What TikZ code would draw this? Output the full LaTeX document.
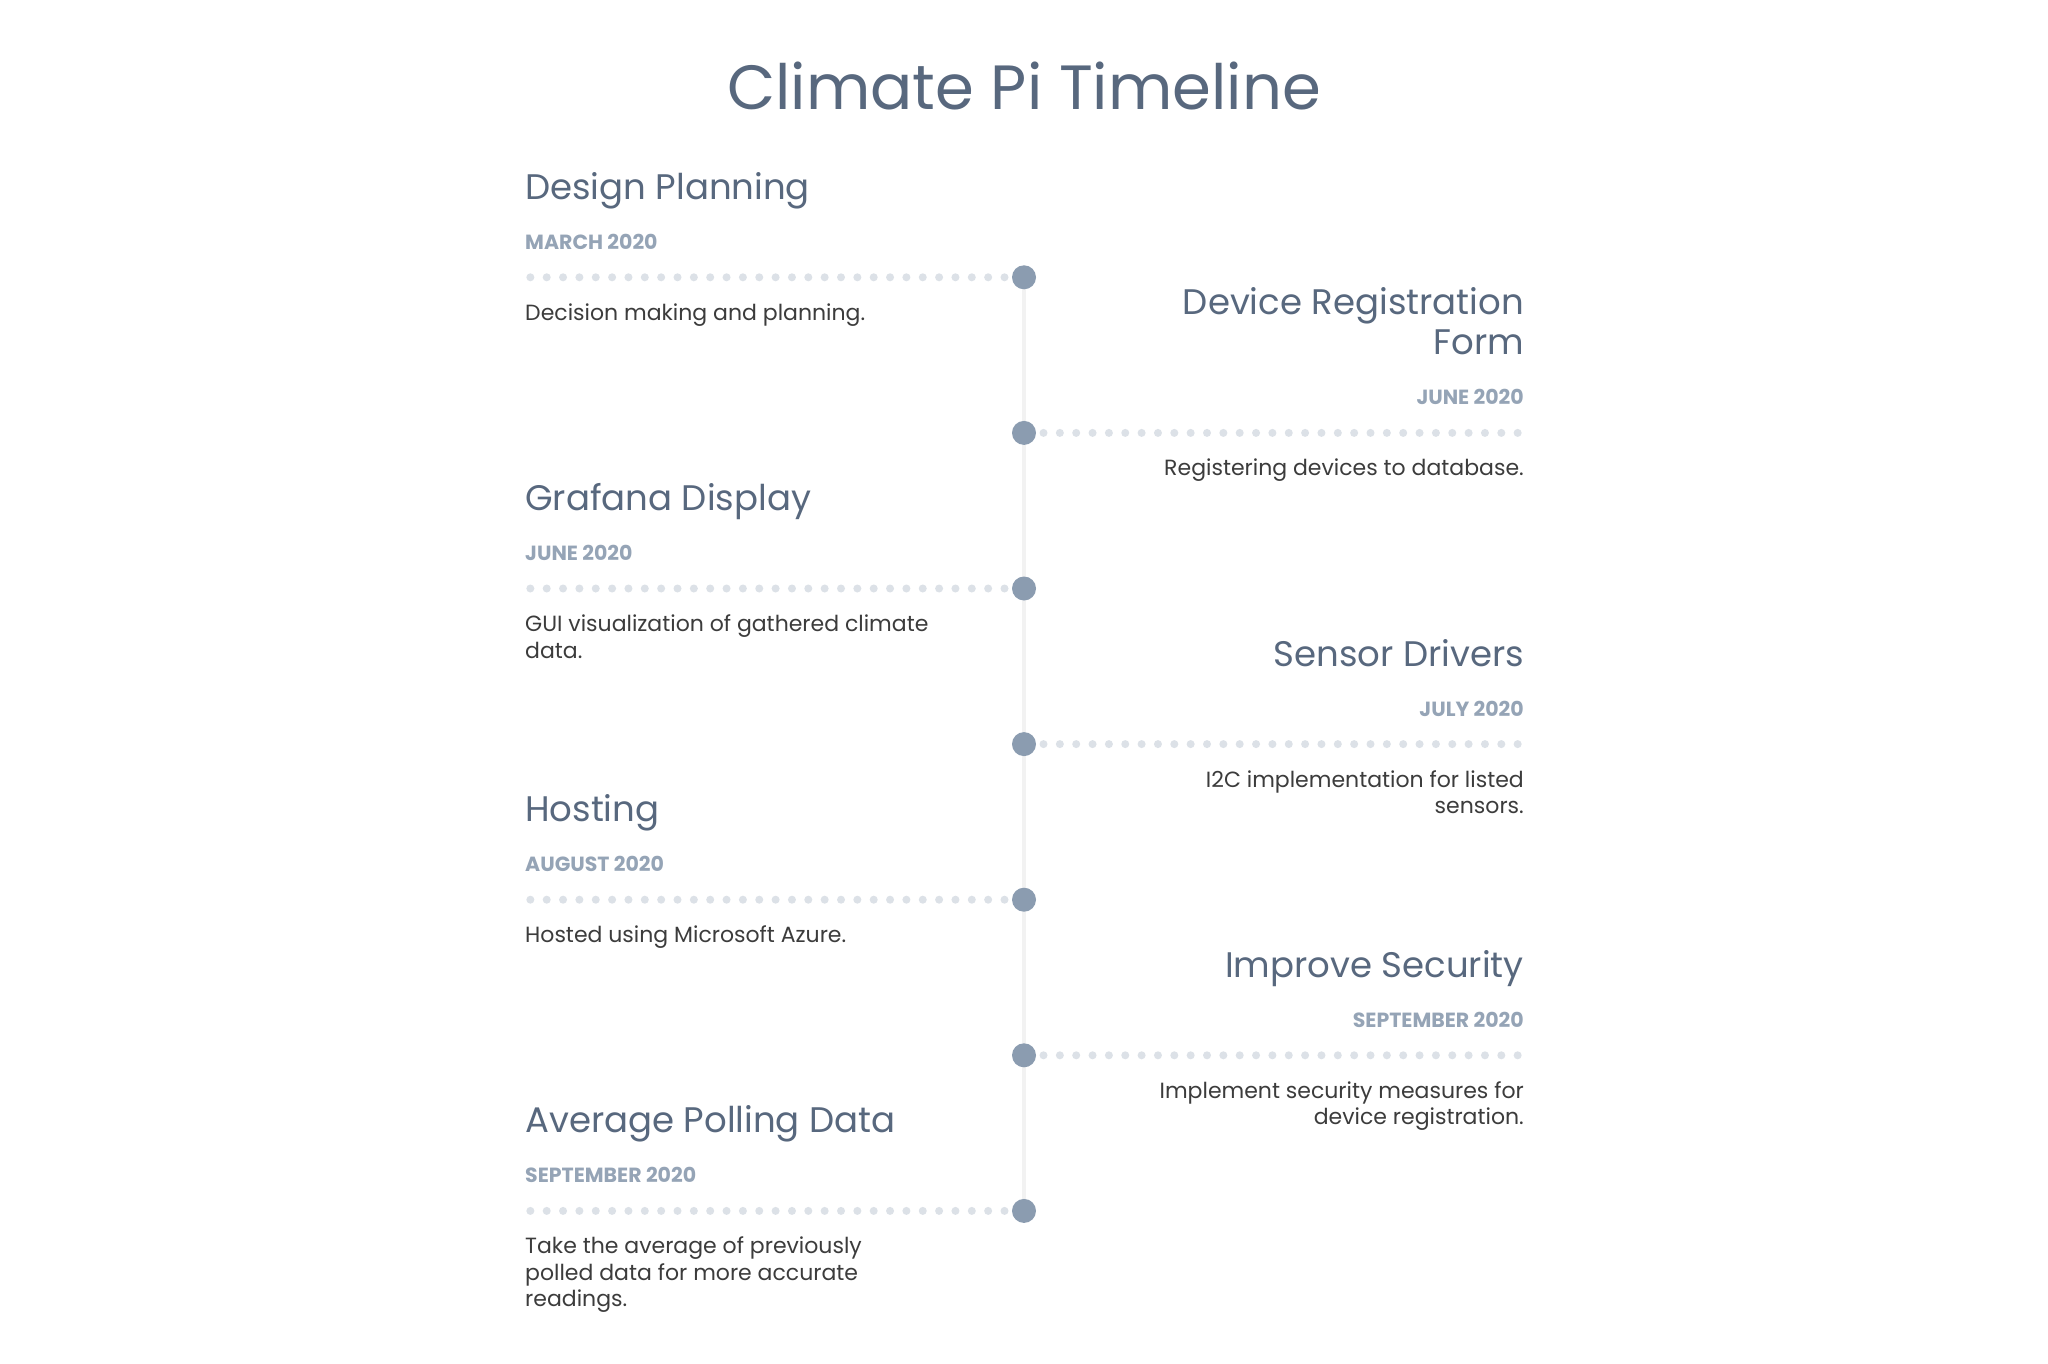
\documentclass[tikz,border=0pt]{standalone}
\usepackage{fontspec}
\setmainfont{Poppins}
\usetikzlibrary{backgrounds}
\definecolor{cpimain}{HTML}{58687E}
\definecolor{cpidate}{HTML}{95A4B6}
\definecolor{cpinode}{HTML}{8B9CB0}
\definecolor{cpidot}{HTML}{DCE1E7}
\definecolor{cpispine}{HTML}{F2F2F2}
\definecolor{cpitext}{HTML}{3C3C3C}
\tikzset{
  milestone/.style={circle, fill=cpinode, minimum size=24pt, inner sep=0pt},
  heading/.style={text=cpimain, font=\fontsize{35.5}{40.5}\selectfont, inner sep=0pt},
  datelabel/.style={text=cpidate, font=\fontsize{20.5}{24}\selectfont\bfseries, inner sep=0pt},
  desc/.style={text=cpitext, font=\fontsize{22}{26.5}\selectfont, inner sep=0pt},
  trackdots/.style={cpidot, line width=8pt, line cap=round, dash pattern=on 0pt off 16.35pt},
  spine/.style={cpispine, line width=4pt}
}
\begin{document}
\begin{tikzpicture}[x=1pt, y=-1pt]
            \useasboundingbox (0,0) rectangle (2048,1364);

            % Title
            \node[text=cpimain, font=\fontsize{62.5}{80}\selectfont, inner sep=0pt, anchor=base] (title) at (1024,110) {Climate Pi Timeline};

            % Design Planning
            \node[milestone] (m1) at (1024,277.3) {};
            \node[heading, anchor=base west] (h1) at (525,199.3) {Design Planning};
            \node[datelabel, anchor=base west] (t1) at (525,249.3) {MARCH 2020};
            \node[desc, anchor=base west, align=left] (d1) at (525,320.3) {Decision making and planning.};
            \coordinate (e1) at (1004.5,277.3);
            \coordinate (f1) at (530.1,277.3);
            \draw[trackdots] (e1) -- (f1);

            % Device Registration Form (base = last line)
            \node[milestone] (m2) at (1024,432.9) {};
            \node[heading, anchor=base east, align=right] (h2) at (1524,354.9) {Device Registration\\Form};
            \node[datelabel, anchor=base east] (t2) at (1524,404.9) {JUNE 2020};
            \node[desc, anchor=base east, align=right] (d2) at (1524,475.9) {Registering devices to database.};
            \coordinate (e2) at (1043.5,432.9);
            \coordinate (f2) at (1517.9,432.9);
            \draw[trackdots] (e2) -- (f2);

            % Grafana Display
            \node[milestone] (m3) at (1024,588.5) {};
            \node[heading, anchor=base west] (h3) at (525,510.5) {Grafana Display};
            \node[datelabel, anchor=base west] (t3) at (525,560.5) {JUNE 2020};
            \node[desc, anchor=base west, align=left] (d3) at (525,658) {GUI visualization of gathered climate\\data.};
            \coordinate (e3) at (1004.5,588.5);
            \coordinate (f3) at (530.1,588.5);
            \draw[trackdots] (e3) -- (f3);

            % Sensor Drivers
            \node[milestone] (m4) at (1024,744.1) {};
            \node[heading, anchor=base east] (h4) at (1524,666.1) {Sensor Drivers};
            \node[datelabel, anchor=base east] (t4) at (1524,716.1) {JULY 2020};
            \node[desc, anchor=base east, align=right] (d4) at (1524,813.6) {I2C implementation for listed\\sensors.};
            \coordinate (e4) at (1043.5,744.1);
            \coordinate (f4) at (1517.9,744.1);
            \draw[trackdots] (e4) -- (f4);

            % Hosting
            \node[milestone] (m5) at (1024,899.7) {};
            \node[heading, anchor=base west] (h5) at (525,821.7) {Hosting};
            \node[datelabel, anchor=base west] (t5) at (525,871.7) {AUGUST 2020};
            \node[desc, anchor=base west, align=left] (d5) at (525,942.7) {Hosted using Microsoft Azure.};
            \coordinate (e5) at (1004.5,899.7);
            \coordinate (f5) at (530.1,899.7);
            \draw[trackdots] (e5) -- (f5);

            % Improve Security
            \node[milestone] (m6) at (1024,1055.3) {};
            \node[heading, anchor=base east] (h6) at (1524,977.3) {Improve Security};
            \node[datelabel, anchor=base east] (t6) at (1524,1027.3) {SEPTEMBER 2020};
            \node[desc, anchor=base east, align=right] (d6) at (1524,1124.8) {Implement security measures for\\device registration.};
            \coordinate (e6) at (1043.5,1055.3);
            \coordinate (f6) at (1517.9,1055.3);
            \draw[trackdots] (e6) -- (f6);

            % Average Polling Data
            \node[milestone] (m7) at (1024,1210.9) {};
            \node[heading, anchor=base west] (h7) at (525,1132.9) {Average Polling Data};
            \node[datelabel, anchor=base west] (t7) at (525,1182.9) {SEPTEMBER 2020};
            \node[desc, anchor=base west, align=left] (d7) at (525,1306.9) {Take the average of previously\\polled data for more accurate\\readings.};
            \coordinate (e7) at (1004.5,1210.9);
            \coordinate (f7) at (530.1,1210.9);
            \draw[trackdots] (e7) -- (f7);

            % Spine behind the milestones
            \begin{scope}[on background layer]
                \fill[white] (0,0) rectangle (2048,1364);
                \draw[spine] (m1) -- (m7);
            \end{scope}
        \end{tikzpicture}
\end{document}
